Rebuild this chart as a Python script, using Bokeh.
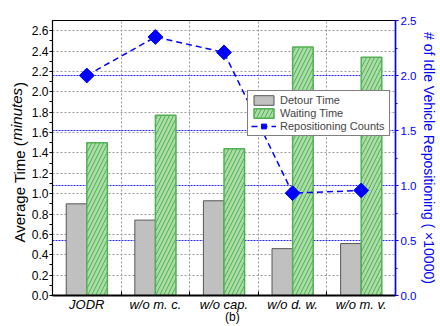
import numpy as np
from bokeh.plotting import figure
from bokeh.models import (Range1d, LinearAxis, FixedTicker, Grid, Legend, LegendItem,
                          ColumnDataSource, NumeralTickFormatter)
from bokeh.transform import dodge
from bokeh.embed import file_html
from bokeh.resources import INLINE

categories = ["JODR", "w/o m. c.", "w/o cap.", "w/o d. w.", "w/o m. v."]
detour_time = [0.90, 0.74, 0.93, 0.46, 0.51]
waiting_time = [1.50, 1.77, 1.44, 2.44, 2.34]
repositioning = [2.00, 2.35, 2.21, 0.93, 0.955]
left_ticks = [0.0, 0.2, 0.4, 0.6, 0.8, 1.0, 1.2, 1.4, 1.6, 1.8, 2.0, 2.2, 2.4, 2.6]
right_ticks = [0.0, 0.5, 1.0, 1.5, 2.0, 2.5]

FONT = "Liberation Sans"
BLUE = "#0000ff"
NB = "\u00a0"

pos = np.arange(len(categories)) + 0.5
src = ColumnDataSource(dict(x=pos, detour=detour_time, waiting=waiting_time,
                            rep=repositioning))

p = figure(width=440, height=326, output_backend="svg", toolbar_location=None,
           x_range=Range1d(0, len(categories)), y_range=Range1d(0, 2.7),
           min_border_left=52, min_border_right=44, min_border_top=20,
           min_border_bottom=28)
p.extra_y_ranges = {"right": Range1d(0, 2.5)}
p.outline_line_color = "black"
p.outline_line_width = 1.2
p.background_fill_color = "white"

# grids
p.xgrid.ticker = FixedTicker(ticks=list(pos[:-1] + 0.5))
p.xgrid.grid_line_color = "#9a9a9a"
p.xgrid.grid_line_dash = "2 2"
p.ygrid.ticker = FixedTicker(ticks=left_ticks)
p.ygrid.grid_line_color = "#9a9a9a"
p.ygrid.grid_line_dash = "2 2"
bgrid = Grid(dimension=1, ticker=FixedTicker(ticks=right_ticks[1:-1]), y_range_name="right",
             grid_line_color=BLUE, grid_line_dash="2 1", grid_line_alpha=0.85)
p.add_layout(bgrid)

# bars
gray = p.vbar(x=dodge("x", -0.15), top="detour", width=0.3, source=src,
              fill_color="#c0c0c0", line_color="#555555", line_width=1)
green = p.vbar(x=dodge("x", 0.15), top="waiting", width=0.3, source=src,
               fill_color="#a9dca6", line_color="#52b152", line_width=1.5,
               hatch_pattern="/", hatch_color="#55b055", hatch_scale=8, hatch_weight=1)

# repositioning line
ln = p.line("x", "rep", source=src, y_range_name="right", line_color=BLUE,
            line_width=1.5, line_dash="6 4")
sc = p.scatter("x", "rep", source=src, y_range_name="right", marker="square",
               angle=np.pi / 4, size=10.5, fill_color=BLUE, line_color=BLUE)

# x axis
xa = p.xaxis[0]
xa.ticker = FixedTicker(ticks=list(pos), minor_ticks=list(np.arange(len(categories) + 1)))
xa.major_label_overrides = {float(v): c for v, c in zip(pos, categories)}
xa.major_tick_in = 0
xa.major_tick_out = 0
xa.minor_tick_in = 4
xa.minor_tick_out = 0
xa.axis_line_width = 2
xa.major_label_text_font = FONT
xa.major_label_text_font_size = "13px"
xa.major_label_text_font_style = "italic"
xa.major_label_text_color = "black"
xa.major_label_standoff = 1

# panel caption "(b)" as the label of a bare second bottom axis
xb = LinearAxis(ticker=FixedTicker(ticks=[], minor_ticks=[]), axis_line_color=None,
                major_tick_line_color=None, minor_tick_line_color=None,
                axis_label=NB * 5 + "(b)", axis_label_text_font=FONT,
                axis_label_text_font_size="12px", axis_label_text_font_style="normal",
                axis_label_text_color="black", axis_label_standoff=-5)
p.add_layout(xb, "below")

# left axis
ya = p.yaxis[0]
ya.ticker = FixedTicker(ticks=left_ticks,
                        minor_ticks=[round(0.1 + 0.2 * i, 2) for i in range(13)])
ya.formatter = NumeralTickFormatter(format="0.0")
ya.major_tick_out = 3
ya.major_tick_in = 0
ya.minor_tick_out = 3
ya.minor_tick_in = 0
ya.major_label_standoff = 1
ya.major_label_text_font = FONT
ya.major_label_text_font_size = "12px"
ya.major_label_text_color = "black"
# "Average Time (minutes)": upright part on the main axis, italic word on a bare axis
ya.axis_label = "Average Time (" + NB * 13 + ")" + NB * 2
ya.axis_label_text_font = FONT
ya.axis_label_text_font_size = "15px"
ya.axis_label_text_font_style = "normal"
ya.axis_label_text_color = "black"
ya.axis_label_standoff = 1

yb = LinearAxis(ticker=FixedTicker(ticks=[], minor_ticks=[]), axis_line_color=None,
                major_tick_line_color=None, minor_tick_line_color=None,
                axis_label=NB * 24 + "minutes" + NB * 3, axis_label_text_font=FONT,
                axis_label_text_font_size="15px", axis_label_text_font_style="italic",
                axis_label_text_color="black", axis_label_standoff=-17)
p.add_layout(yb, "left")

# right axis
ra = LinearAxis(y_range_name="right",
                ticker=FixedTicker(ticks=right_ticks,
                                   minor_ticks=[0.25, 0.75, 1.25, 1.75, 2.25]),
                formatter=NumeralTickFormatter(format="0.0"),
                axis_label="# of Idle Vehicle Repositioning ( \u00d710000)",
                axis_label_text_font=FONT, axis_label_text_font_size="14px",
                axis_label_text_font_style="normal", axis_label_text_color=BLUE,
                axis_label_standoff=2,
                axis_line_color=BLUE, axis_line_width=1.5,
                major_tick_line_color=BLUE, minor_tick_line_color=BLUE,
                major_tick_out=3, major_tick_in=0, minor_tick_out=2, minor_tick_in=0,
                major_label_standoff=2, major_label_text_font=FONT,
                major_label_text_font_size="11.5px", major_label_text_color=BLUE)
p.add_layout(ra, "right")

legend = Legend(items=[LegendItem(label="Detour Time", renderers=[gray]),
                       LegendItem(label="Waiting Time", renderers=[green]),
                       LegendItem(label="Repositioning Counts", renderers=[ln, sc])],
                location=(195, 159), label_text_font=FONT,
                label_text_font_size="11px", glyph_width=25, glyph_height=12,
                label_height=12, label_width=106, label_standoff=4, padding=3,
                spacing=1, margin=0,
                border_line_color="black", border_line_width=1,
                background_fill_alpha=1)
p.add_layout(legend)

open("out.html", "w").write(file_html(p, INLINE))
